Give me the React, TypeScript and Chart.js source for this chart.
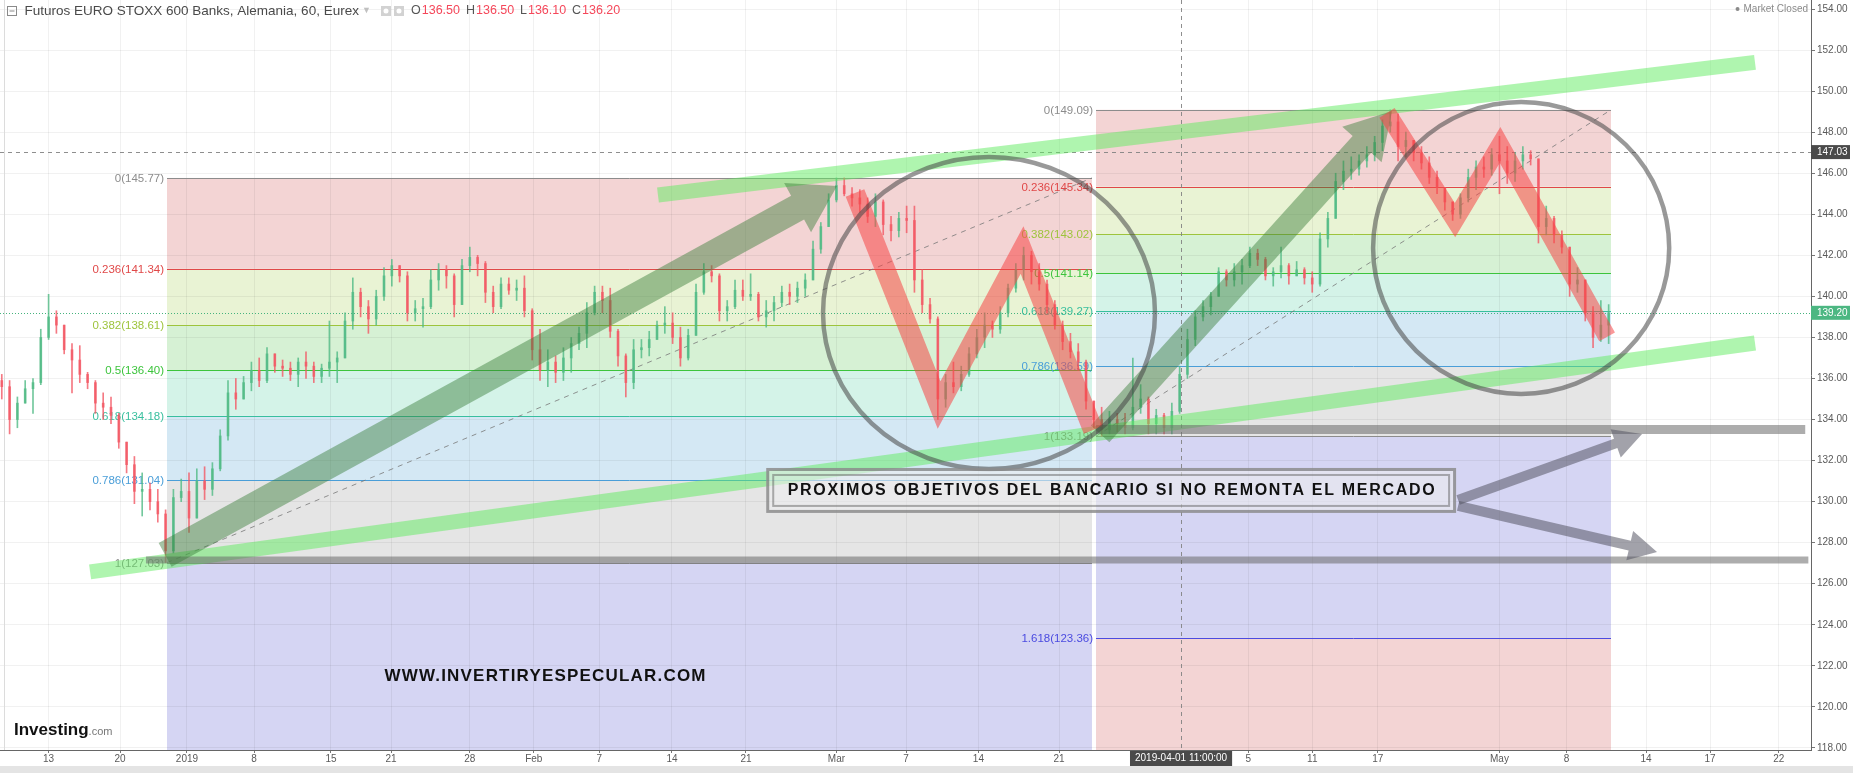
import React, { useEffect, useRef } from "react";
import { Chart, registerables } from "chart.js";

Chart.register(...registerables);

const W = 1853;
const H = 773;
const FONT = "'Liberation Sans', Arial, Helvetica, sans-serif";

// ---- Price series: half-day candles of the hourly contract (session units, 0 = 13 Dec 2018)
const candleStart = -3;
const candleStep = 0.5;
const firstOpen = 135.9;

const closes = [
  135.6, 134.0, 134.8, 135.5, 135.8, 138.0, 139.0, 138.6, 137.4, 136.9,
  136.2, 135.8, 134.8, 134.6, 134.2, 132.9, 131.8, 130.5, 130.6, 130.0,
  129.4, 127.6, 130.2, 130.5, 129.2, 131.0, 130.6, 131.6, 133.2, 135.3,
  135.0, 135.8, 136.4, 135.9, 137.2, 136.6, 136.5, 136.2, 136.8, 136.6,
  136.1, 136.5, 136.8, 137.0, 138.8, 140.2, 139.5, 138.9, 140.0, 141.0,
  141.5, 141.0, 139.2, 139.4, 139.5, 140.8, 141.3, 141.0, 139.6, 141.5,
  141.9, 141.6, 140.2, 139.5, 140.6, 140.3, 140.4, 139.3, 137.4, 136.4,
  136.8, 136.3, 137.0, 137.7, 138.2, 139.2, 140.2, 139.8, 138.3, 137.1,
  135.8, 137.4, 137.5, 137.9, 138.6, 138.7, 138.0, 137.0, 138.1, 140.2,
  141.2, 141.0, 139.3, 139.5, 140.3, 140.0, 140.1, 139.0, 139.3, 139.7,
  140.2, 140.0, 140.4, 140.8, 142.3, 143.4, 144.7, 145.4, 145.0, 144.8,
  144.5, 143.9, 144.6, 143.5, 143.2, 143.8, 143.7, 140.8, 139.6, 138.9,
  135.0, 135.8, 135.6, 136.2, 137.2, 138.0, 138.6, 138.4, 139.2, 140.4,
  141.3, 142.0, 141.2, 140.6, 139.6, 138.6, 137.8, 137.3, 136.8, 134.9,
  134.0, 133.5, 134.0, 133.8, 133.6, 134.6, 135.0, 133.8, 134.2, 133.6,
  134.4, 136.2, 137.9, 139.0, 139.5, 140.0, 141.2, 140.8, 141.2, 141.5,
  142.1, 141.8, 141.0, 141.2, 141.5, 141.0, 141.3, 140.9, 140.6, 142.8,
  143.8, 145.6, 146.1, 146.2, 146.6, 146.9, 147.5, 148.3, 148.5, 147.3,
  147.6, 147.0, 146.5, 145.8, 145.3, 144.6, 144.0, 144.8, 145.8, 146.3,
  146.2, 146.9, 146.6, 146.0, 146.6, 146.9, 146.7, 143.4, 143.8, 143.0,
  142.4, 140.6, 140.8, 139.2, 138.0, 138.6, 139.2,
];

const highs = [
  136.2, 135.9, 135.1, 135.9, 136.0, 138.4, 140.1, 139.3, 138.6, 137.7,
  137.6, 136.3, 135.9, 135.3, 135.1, 134.3, 132.9, 132.2, 131.4, 130.9,
  130.6, 129.6, 130.6, 131.1, 131.4, 131.6, 131.7, 131.9, 133.5, 135.9,
  136.0, 136.1, 136.8, 137.0, 137.5, 137.2, 136.9, 136.8, 137.0, 137.3,
  136.8, 136.7, 138.8, 137.3, 139.2, 140.9, 140.4, 139.8, 140.3, 141.4,
  141.8, 141.5, 141.2, 139.8, 139.9, 141.3, 141.6, 141.5, 141.1, 141.8,
  142.4, 142.0, 141.7, 140.5, 140.9, 140.9, 140.8, 141.0, 139.4, 138.4,
  137.4, 137.1, 137.5, 138.0, 138.5, 139.7, 140.5, 140.5, 140.4, 138.4,
  137.2, 137.9, 137.9, 138.3, 138.8, 139.5, 139.2, 138.5, 138.4, 140.6,
  141.6, 141.5, 141.1, 139.8, 140.8, 140.8, 141.1, 140.2, 139.8, 140.0,
  140.5, 140.6, 140.7, 141.1, 142.7, 143.6, 145.0, 145.77, 145.77, 145.3,
  145.2, 144.8, 145.0, 144.7, 143.9, 144.1, 144.4, 144.4, 141.3, 139.9,
  139.0, 136.2, 136.8, 136.6, 137.5, 138.4, 139.2, 138.8, 139.5, 140.6,
  141.6, 142.4, 142.2, 141.6, 140.8, 139.8, 138.8, 138.2, 137.7, 136.9,
  134.9, 134.6, 134.4, 134.3, 134.3, 137.0, 135.7, 135.1, 134.5, 134.3,
  134.8, 136.6, 138.4, 139.3, 139.8, 140.2, 141.4, 141.3, 141.6, 141.8,
  142.4, 142.3, 141.9, 141.4, 142.4, 141.6, 141.7, 141.4, 141.2, 143.1,
  144.1, 146.0, 146.6, 146.8, 146.9, 147.3, 147.8, 148.6, 149.09, 148.9,
  148.0, 147.6, 147.3, 146.8, 146.1, 145.3, 144.6, 145.0, 146.2, 146.6,
  146.8, 147.2, 147.8, 147.3, 147.0, 147.3, 147.1, 146.7, 144.4, 143.9,
  143.2, 142.4, 141.4, 140.8, 139.5, 139.8, 139.6,
];

const lows = [
  135.0, 133.3, 133.6, 134.8, 134.3, 135.7, 137.9, 138.2, 137.2, 135.3,
  135.8, 135.5, 134.3, 134.0, 133.8, 132.6, 131.4, 129.9, 129.3, 129.6,
  129.0, 127.03, 127.5, 130.0, 128.5, 129.2, 130.1, 130.3, 131.5, 133.0,
  134.5, 135.0, 135.4, 135.6, 135.8, 136.3, 136.1, 135.9, 135.6, 136.0,
  135.8, 135.8, 136.1, 135.8, 137.0, 138.4, 139.0, 138.2, 138.6, 139.8,
  140.5, 140.7, 138.8, 138.8, 138.5, 139.4, 140.3, 140.4, 139.0, 139.6,
  141.2, 141.0, 139.7, 139.2, 139.4, 140.1, 139.8, 139.0, 136.9, 135.9,
  135.6, 135.8, 135.9, 136.3, 137.4, 137.5, 139.1, 139.2, 138.0, 136.6,
  135.1, 135.5, 137.0, 137.1, 137.9, 138.2, 137.7, 136.6, 136.9, 138.1,
  140.1, 140.7, 138.8, 138.8, 139.4, 139.8, 139.8, 138.8, 138.5, 138.8,
  139.5, 139.6, 139.7, 140.0, 140.8, 142.1, 143.4, 144.6, 144.9, 144.4,
  144.1, 143.6, 143.4, 143.0, 142.7, 142.9, 143.1, 140.2, 139.2, 138.7,
  134.0, 134.6, 135.3, 135.4, 136.1, 137.0, 137.5, 138.0, 138.2, 139.0,
  140.2, 140.8, 140.6, 140.3, 139.2, 138.4, 137.4, 137.0, 136.4, 134.5,
  133.6, 133.19, 133.3, 133.4, 133.3, 133.5, 134.3, 133.3, 133.3, 133.3,
  133.3, 134.3, 136.0, 137.6, 138.8, 139.1, 140.0, 140.5, 140.5, 140.6,
  141.4, 141.5, 140.8, 140.5, 140.9, 140.6, 141.0, 140.6, 140.2, 140.5,
  142.4, 143.8, 145.2, 145.7, 145.9, 146.3, 146.6, 147.1, 148.0, 146.6,
  146.8, 146.6, 146.2, 145.5, 145.0, 144.2, 143.7, 143.8, 144.6, 145.2,
  145.8, 145.9, 145.0, 145.5, 145.6, 146.2, 146.4, 142.6, 143.0, 142.6,
  142.1, 140.0, 140.2, 138.8, 137.5, 137.8, 137.7,
];

// ---- Axes
const sessionMin = -3.115;
const sessionMax = 112.97;
const priceMin = 117.9;
const priceMax = 154.44;
const sessionTicks = [0, 4.58, 8.87, 13.17, 18.1, 21.95, 27.0, 31.1, 35.3, 39.96, 44.7, 50.5, 54.96, 59.6, 64.77, 76.9, 81.0, 85.2, 93.0, 97.3, 102.4, 106.5, 110.9];
const sessionTickLabels = ["13", "20", "2019", "8", "15", "21", "28", "Feb", "7", "14", "21", "Mar", "7", "14", "21", "5", "11", "17", "May", "8", "14", "17", "22"];
const priceTicks = [118, 120, 122, 124, 126, 128, 130, 132, 134, 136, 138, 140, 142, 144, 146, 148, 150, 152, 154];

// ---- Crosshair (hourly bar under the cursor)
const crosshairSession = 72.59;
const crosshairPrice = 147.03;
const crosshairTime = "2019-04-01 11:00:00";
const crosshairOHLC = [136.5, 136.5, 136.1, 136.2];

// ---- Fibonacci retracements
const fibLeftSpan = [7.59, 66.88];
const fibLeftLevels = ["0", "0.236", "0.382", "0.5", "0.618", "0.786", "1"];
const fibLeftPrices = [145.77, 141.34, 138.61, 136.4, 134.18, 131.04, 127.03];
const fibRightSpan = [67.14, 100.15];
const fibRightLevels = ["0", "0.236", "0.382", "0.5", "0.618", "0.786", "1", "1.618"];
const fibRightPrices = [149.09, 145.34, 143.02, 141.14, 139.27, 136.59, 133.19, 123.36];

// ---- Drawings (session, price)
const channelUpper = [[39.06, 144.94], [109.38, 151.4]];
const channelLower = [[2.66, 126.58], [109.38, 137.73]];
const targetUpper = [[67.14, 133.52], [112.6, 133.52]];
const targetLower = [[6.24, 127.16], [112.8, 127.16]];
const trendArrowA = [[7.47, 127.41], [50.54, 145.38]];
const trendArrowB = [[67.4, 133.3], [86.12, 149.03]];
const zigzagMarch = [[51.69, 145.04], [57.08, 134.71], [62.4, 142.26], [66.95, 133.49]];
const zigzagApril = [[85.79, 148.94], [90.15, 143.72], [93.04, 147.38], [99.9, 138.03]];
const circleMarch = [60.28, 139.19, 10.64, 7.6];
const circleApril = [94.39, 142.36, 9.49, 7.11];
const targetArrowUp = [[90.35, 130.08], [102.14, 133.3]];
const targetArrowDown = [[90.35, 129.79], [103.1, 127.55]];
const noteBox = [[46.0, 131.64], [90.22, 129.45]];
const noteText = "PROXIMOS OBJETIVOS DEL BANCARIO SI NO REMONTA EL MERCADO";
const siteAnchor = [31.82, 121.51];
const siteText = "WWW.INVERTIRYESPECULAR.COM";

const zoneFill: Record<string, string> = {
  "0": "#f3d4d4", "0.236": "#e9f3d4", "0.382": "#d6f1d4", "0.5": "#d4f3e8",
  "0.618": "#d4e8f4", "0.786": "#e5e5e5", "1": "#d5d5f3", "1.618": "#f3d4d4",
};
const levelColor: Record<string, string> = {
  "0": "#8c8c8c", "0.236": "#e04848", "0.382": "#9ec43c", "0.5": "#3cc43c",
  "0.618": "#38bf9e", "0.786": "#4a9ed8", "1": "#8c8c8c", "1.618": "#4b4be0",
};

const UP = "rgba(80,186,132,0.8)";
const DOWN = "rgba(243,88,100,0.8)";

const sessions = closes.map((_, i) => candleStart + i * candleStep);
const opens = closes.map((_, i) => (i === 0 ? firstOpen : closes[i - 1]));
const candleColors = closes.map((c, i) => (c >= opens[i] ? UP : DOWN));
const lastClose = closes[closes.length - 1];

function arrowPath(ctx: CanvasRenderingContext2D, x1: number, y1: number, x2: number, y2: number, shaftW: number, headW: number, headL: number) {
  const dx = x2 - x1, dy = y2 - y1, len = Math.hypot(dx, dy);
  const ux = dx / len, uy = dy / len, nx = -uy, ny = ux;
  const bx = x2 - ux * headL, by = y2 - uy * headL;
  const s = shaftW / 2, h = headW / 2;
  ctx.beginPath();
  ctx.moveTo(x1 + nx * s, y1 + ny * s);
  ctx.lineTo(bx + nx * s, by + ny * s);
  ctx.lineTo(bx + nx * h, by + ny * h);
  ctx.lineTo(x2, y2);
  ctx.lineTo(bx - nx * h, by - ny * h);
  ctx.lineTo(bx - nx * s, by - ny * s);
  ctx.lineTo(x1 - nx * s, y1 - ny * s);
  ctx.closePath();
}

function spacedText(ctx: any, text: string, cx: number, cy: number, font: string, width: number, color: string) {
  ctx.font = font;
  ctx.letterSpacing = "0px";
  const w = ctx.measureText(text).width;
  const sp = (width - w) / (text.length - 1);
  ctx.letterSpacing = `${sp}px`;
  ctx.fillStyle = color;
  ctx.textAlign = "left";
  ctx.textBaseline = "middle";
  ctx.fillText(text, cx - width / 2, cy);
  ctx.letterSpacing = "0px";
}

const overlay = {
  id: "overlay",
  beforeDraw(chart: any) {
    const { ctx, chartArea: a } = chart;
    const { x, y } = chart.scales;
    ctx.save();
    ctx.fillStyle = "#fff";
    ctx.fillRect(0, 0, chart.width, chart.height);
    ctx.beginPath();
    ctx.rect(a.left, a.top, a.right - a.left, a.bottom - a.top);
    ctx.clip();
    const zones = (span: number[], levels: string[], prices: number[]) => {
      const x0 = x.getPixelForValue(span[0]);
      const x1 = x.getPixelForValue(span[1]);
      prices.forEach((p, i) => {
        const top = y.getPixelForValue(p);
        const bot = i + 1 < prices.length ? y.getPixelForValue(prices[i + 1]) : y.getPixelForValue(priceMin);
        ctx.fillStyle = zoneFill[levels[i]];
        ctx.fillRect(x0, top, x1 - x0, bot - top);
      });
    };
    zones(fibLeftSpan, fibLeftLevels, fibLeftPrices);
    zones(fibRightSpan, fibRightLevels, fibRightPrices);
    ctx.restore();
  },
  beforeDatasetsDraw(chart: any) {
    const { ctx, chartArea: a } = chart;
    const { x, y } = chart.scales;
    const X = (v: number) => x.getPixelForValue(v);
    const Y = (v: number) => y.getPixelForValue(v);
    ctx.save();
    ctx.beginPath();
    ctx.rect(a.left, a.top, a.right - a.left, a.bottom - a.top);
    ctx.clip();
    const fib = (span: number[], levels: string[], prices: number[]) => {
      const x0 = X(span[0]);
      const x1 = X(span[1]);
      ctx.font = `11.5px ${FONT}`;
      ctx.textAlign = "right";
      ctx.textBaseline = "middle";
      levels.forEach((lv, i) => {
        const py = Math.round(Y(prices[i])) + 0.5;
        ctx.strokeStyle = levelColor[lv];
        ctx.lineWidth = 1;
        ctx.setLineDash([]);
        ctx.beginPath();
        ctx.moveTo(x0, py);
        ctx.lineTo(x1, py);
        ctx.stroke();
        ctx.fillStyle = levelColor[lv];
        ctx.fillText(`${lv}(${prices[i].toFixed(2)})`, x0 - 3, py);
      });
      const one = prices[levels.indexOf("1")];
      ctx.strokeStyle = "rgba(120,120,120,0.8)";
      ctx.setLineDash([5, 5]);
      ctx.beginPath();
      ctx.moveTo(x0, Y(one));
      ctx.lineTo(x1, Y(prices[0]));
      ctx.stroke();
    };
    fib(fibLeftSpan, fibLeftLevels, fibLeftPrices);
    fib(fibRightSpan, fibRightLevels, fibRightPrices);

    // crosshair
    ctx.strokeStyle = "rgba(130,130,130,0.9)";
    ctx.lineWidth = 1;
    ctx.setLineDash([4, 4]);
    const cx = Math.round(X(crosshairSession)) + 0.5;
    const cy = Math.round(Y(crosshairPrice)) + 0.5;
    ctx.beginPath();
    ctx.moveTo(cx, a.top);
    ctx.lineTo(cx, a.bottom);
    ctx.moveTo(a.left, cy);
    ctx.lineTo(a.right, cy);
    ctx.stroke();

    // last price
    ctx.strokeStyle = "#45b37d";
    ctx.setLineDash([1, 2]);
    const ly = Math.round(Y(lastClose)) + 0.5;
    ctx.beginPath();
    ctx.moveTo(a.left, ly);
    ctx.lineTo(a.right, ly);
    ctx.stroke();
    ctx.setLineDash([]);

    // left frame edge
    ctx.strokeStyle = "#dcdcdc";
    ctx.beginPath();
    ctx.moveTo(4.5, a.top);
    ctx.lineTo(4.5, a.bottom);
    ctx.stroke();
    ctx.restore();
  },
  afterDatasetsDraw(chart: any) {
    const { ctx, chartArea: a } = chart;
    const { x, y } = chart.scales;
    const X = (v: number) => x.getPixelForValue(v);
    const Y = (v: number) => y.getPixelForValue(v);
    ctx.save();
    ctx.beginPath();
    ctx.rect(a.left, a.top, a.right - a.left, a.bottom - a.top);
    ctx.clip();
    ctx.setLineDash([]);

    const band = (pts: number[][], width: number, color: string) => {
      ctx.strokeStyle = color;
      ctx.lineWidth = width;
      ctx.lineCap = "butt";
      ctx.beginPath();
      ctx.moveTo(X(pts[0][0]), Y(pts[0][1]));
      ctx.lineTo(X(pts[1][0]), Y(pts[1][1]));
      ctx.stroke();
    };
    // support / resistance channel
    band(channelUpper, 15, "rgba(95,235,95,0.5)");
    band(channelLower, 15, "rgba(95,235,95,0.5)");
    // target levels
    band(targetUpper, 9, "rgba(105,105,105,0.55)");
    band(targetLower, 7, "rgba(105,105,105,0.55)");

    // trend arrows
    const bigArrow = (pts: number[][], shaft: number, head: number, len: number, color: string) => {
      arrowPath(ctx, X(pts[0][0]), Y(pts[0][1]), X(pts[1][0]), Y(pts[1][1]), shaft, head, len);
      ctx.fillStyle = color;
      ctx.fill();
    };
    bigArrow(trendArrowA, 27, 56, 45, "rgba(55,125,55,0.45)");
    bigArrow(trendArrowB, 25, 53, 45, "rgba(55,125,55,0.45)");

    // swing paths
    const zig = (pts: number[][], width: number) => {
      ctx.strokeStyle = "rgba(245,70,70,0.55)";
      ctx.lineWidth = width;
      ctx.lineJoin = "miter";
      ctx.lineCap = "butt";
      ctx.beginPath();
      pts.forEach((p, i) => (i === 0 ? ctx.moveTo(X(p[0]), Y(p[1])) : ctx.lineTo(X(p[0]), Y(p[1]))));
      ctx.stroke();
    };
    zig(zigzagMarch, 20);
    zig(zigzagApril, 18);

    // circles
    const ring = (c: number[]) => {
      const px = X(c[0]), py = Y(c[1]);
      const rx = X(c[0] + c[2]) - px;
      const ry = Y(c[1] - c[3]) - py;
      ctx.strokeStyle = "rgba(70,70,70,0.55)";
      ctx.lineWidth = 4.5;
      ctx.beginPath();
      ctx.ellipse(px, py, rx, ry, 0, 0, Math.PI * 2);
      ctx.stroke();
    };
    ring(circleMarch);
    ring(circleApril);

    // target arrows
    bigArrow(targetArrowUp, 10, 30, 28, "rgba(85,85,100,0.55)");
    bigArrow(targetArrowDown, 10, 30, 28, "rgba(85,85,100,0.55)");

    // note box
    const bx0 = X(noteBox[0][0]), by0 = Y(noteBox[0][1]);
    const bx1 = X(noteBox[1][0]), by1 = Y(noteBox[1][1]);
    ctx.fillStyle = "rgba(236,236,238,0.6)";
    ctx.fillRect(bx0, by0, bx1 - bx0, by1 - by0);
    ctx.strokeStyle = "rgba(100,100,100,0.6)";
    ctx.lineWidth = 3;
    ctx.strokeRect(bx0 + 1.5, by0 + 1.5, bx1 - bx0 - 3, by1 - by0 - 3);
    ctx.lineWidth = 2;
    ctx.strokeStyle = "rgba(100,100,100,0.5)";
    ctx.strokeRect(bx0 + 7, by0 + 7, bx1 - bx0 - 14, by1 - by0 - 14);
    spacedText(ctx, noteText, (bx0 + bx1) / 2, (by0 + by1) / 2 + 0.5, `bold 16px ${FONT}`, 647, "#111");

    // site watermark
    spacedText(ctx, siteText, X(siteAnchor[0]), Y(siteAnchor[1]), `bold 17px ${FONT}`, 321, "#111");

    // logo
    ctx.textAlign = "left";
    ctx.textBaseline = "alphabetic";
    ctx.font = `bold 17px ${FONT}`;
    ctx.fillStyle = "#111";
    ctx.fillText("Investing", a.left + 14, a.bottom - 15);
    const iw = ctx.measureText("Investing").width;
    ctx.font = `11px ${FONT}`;
    ctx.fillStyle = "#777";
    ctx.fillText(".com", a.left + 14 + iw, a.bottom - 15);
    ctx.restore();
  },
  afterDraw(chart: any) {
    const { ctx, chartArea: a } = chart;
    const { x, y } = chart.scales;
    ctx.save();
    // header
    ctx.strokeStyle = "#8a8a8a";
    ctx.lineWidth = 1;
    ctx.strokeRect(7.5, 6.5, 9, 9);
    ctx.beginPath();
    ctx.moveTo(9.5, 11);
    ctx.lineTo(14.5, 11);
    ctx.stroke();
    ctx.textBaseline = "middle";
    ctx.textAlign = "left";
    ctx.font = `13.5px ${FONT}`;
    ctx.fillStyle = "#4a4a4a";
    ctx.fillText("Futuros EURO STOXX 600 Banks, Alemania, 60, Eurex", 24.5, 11);
    ctx.font = `9px ${FONT}`;
    ctx.fillStyle = "#c0c0c0";
    ctx.fillText("▼", 362, 11);
    ctx.fillStyle = "#d2d2d2";
    ctx.fillRect(381, 6, 10, 10);
    ctx.fillRect(394, 6, 10, 10);
    ctx.fillStyle = "#fff";
    ctx.beginPath();
    ctx.arc(386, 11, 2.5, 0, Math.PI * 2);
    ctx.arc(399, 11, 2.5, 0, Math.PI * 2);
    ctx.fill();
    const ohlcKeys = ["O", "H", "L", "C"];
    const keyX = [411, 466, 520, 572];
    ohlcKeys.forEach((k, i) => {
      ctx.font = `12.5px ${FONT}`;
      ctx.fillStyle = "#555";
      ctx.fillText(k, keyX[i], 11);
      const kw = ctx.measureText(k).width;
      ctx.fillStyle = "#f5475a";
      ctx.fillText(crosshairOHLC[i].toFixed(2), keyX[i] + kw + 1, 11);
    });
    ctx.textAlign = "right";
    ctx.font = `10px ${FONT}`;
    ctx.fillStyle = "#8a8a8a";
    ctx.fillText("Market Closed", a.right - 3, 9);
    ctx.beginPath();
    ctx.arc(a.right - 3 - ctx.measureText("Market Closed").width - 6, 9, 2, 0, Math.PI * 2);
    ctx.fill();

    // axis price tags
    const tag = (price: number, bg: string) => {
      const py = y.getPixelForValue(price);
      ctx.fillStyle = bg;
      ctx.fillRect(a.right, py - 7, 39, 14);
      ctx.fillStyle = "#fff";
      ctx.textAlign = "left";
      ctx.textBaseline = "middle";
      ctx.font = `10px ${FONT}`;
      ctx.fillText(price.toFixed(2), a.right + 6, py);
    };
    tag(crosshairPrice, "#4a4a4a");
    tag(lastClose, "#4cb782");

    // time tag
    const tx = x.getPixelForValue(crosshairSession);
    ctx.font = `10px ${FONT}`;
    const tw = ctx.measureText(crosshairTime).width + 10;
    ctx.fillStyle = "#4a4a4a";
    ctx.fillRect(tx - tw / 2, a.bottom + 1, tw, 15);
    ctx.fillStyle = "#fff";
    ctx.textAlign = "center";
    ctx.fillText(crosshairTime, tx, a.bottom + 8.5);

    // bottom toolbar strip
    ctx.fillStyle = "#e4e4e4";
    ctx.fillRect(0, 766, chart.width, chart.height - 766);
    ctx.restore();
  },
};

export default function App() {
  const ref = useRef<HTMLCanvasElement>(null);
  useEffect(() => {
    const canvas = ref.current;
    if (!canvas) return;
    Chart.defaults.font.family = FONT;
    const wickData = sessions.map((s, i) => ({ x: s, y: [lows[i], highs[i]] }));
    const bodyData = sessions.map((s, i) => ({ x: s, y: [opens[i], closes[i]] }));
    const chart = new Chart(canvas, {
      type: "bar",
      data: {
        datasets: [
          { data: wickData as any, backgroundColor: candleColors, barThickness: 1, grouped: false, borderWidth: 0 } as any,
          { data: bodyData as any, backgroundColor: candleColors, barThickness: 2, grouped: false, borderWidth: 0, minBarLength: 1 } as any,
        ],
      },
      options: {
        responsive: false,
        maintainAspectRatio: false,
        devicePixelRatio: 1,
        animation: false,
        events: [],
        layout: { padding: 0 },
        plugins: { legend: { display: false }, tooltip: { enabled: false }, title: { display: false } },
        scales: {
          x: {
            type: "linear",
            offset: false,
            min: sessionMin,
            max: sessionMax,
            afterBuildTicks: (s: any) => {
              s.ticks = sessionTicks.map((v) => ({ value: v }));
            },
            afterFit: (s: any) => {
              s.height = 23;
              s.paddingLeft = 0;
              s.paddingRight = 0;
            },
            ticks: {
              autoSkip: false,
              maxRotation: 0,
              padding: 0,
              color: "#5a5a5a",
              font: { size: 10 },
              callback: (_v: any, i: number) => sessionTickLabels[i],
            },
            grid: { offset: false, color: "rgba(0,0,0,0.055)", tickLength: 3, tickColor: "#777" },
            border: { color: "#666" },
          },
          y: {
            type: "linear",
            position: "right",
            min: priceMin,
            max: priceMax,
            afterBuildTicks: (s: any) => {
              s.ticks = priceTicks.map((v) => ({ value: v }));
            },
            afterFit: (s: any) => {
              s.width = 42;
              s.paddingTop = 0;
              s.paddingBottom = 0;
            },
            ticks: {
              padding: 2,
              color: "#5a5a5a",
              font: { size: 10 },
              callback: (v: any) => Number(v).toFixed(2),
            },
            grid: { color: "rgba(0,0,0,0.055)", tickLength: 4, tickColor: "#777" },
            border: { color: "#666" },
          },
        },
      } as any,
      plugins: [overlay as any],
    });
    return () => chart.destroy();
  }, []);
  return (
    <div style={{ position: "fixed", left: 0, top: 0, width: W, height: H, background: "#fff" }}>
      <canvas ref={ref} width={W} height={H} style={{ display: "block", width: W, height: H }} />
    </div>
  );
}
